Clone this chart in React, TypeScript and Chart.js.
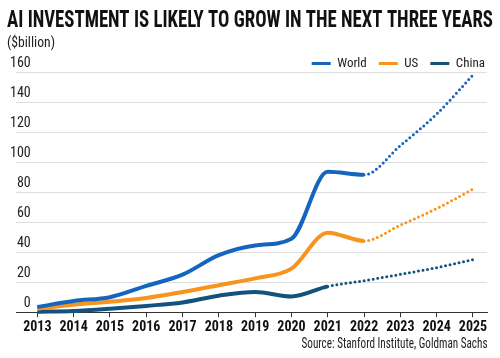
import React, { useEffect, useRef } from 'react';
import { Chart, registerables } from 'chart.js';

Chart.register(...registerables);

// ---- Data ----
const years = [2013, 2014, 2015, 2016, 2017, 2018, 2019, 2020, 2021, 2022, 2023, 2024, 2025];
const world = [3.5, 7.5, 10, 17.5, 25, 38, 44.5, 49, 93.5, 91.5, 111, 132, 158];
const us = [2.3, 5, 7, 9.5, 13.5, 18, 22.5, 29, 53, 47.5, 58, 69, 82];
const china = [0.3, 0.8, 2.3, 4.2, 6.5, 11, 13.5, 10.5, 17.2, 21, 25.2, 29.7, 35];
const seriesNames = ['World', 'US', 'China'];
const lastActualYear = [2022, 2022, 2021];
const yTickValues = [0, 20, 40, 60, 80, 100, 120, 140, 160];

const titleText = 'AI INVESTMENT IS LIKELY TO GROW IN THE NEXT THREE YEARS';
const subtitleText = '($billion)';
const sourceText = 'Source: Stanford Institute, Goldman Sachs';

// ---- Styles ----
const FONT = "'Roboto Condensed', 'Liberation Sans Narrow', 'DejaVu Sans Condensed', 'Arial Narrow', sans-serif";
const COLORS = ['#1565c0', '#f7941d', '#14527e'];

function makeDataset(label: string, values: number[], color: string, lastActual: number) {
  const fc = (c: any) => c.p0.parsed.x >= lastActual;
  return {
    label,
    data: years.map((x, i) => ({ x, y: values[i] })),
    borderColor: color,
    backgroundColor: color,
    borderWidth: 4,
    pointRadius: 0,
    pointHoverRadius: 0,
    cubicInterpolationMode: 'monotone' as const,
    fill: false,
    clip: false as any,
    segment: {
      borderDash: (c: any) => (fc(c) ? [0, 4.6] : undefined),
      borderWidth: (c: any) => (fc(c) ? 3 : undefined),
      borderCapStyle: (c: any) => (fc(c) ? 'round' : undefined),
    },
  };
}

function fitText(ctx: CanvasRenderingContext2D, text: string, x: number, y: number, width: number, align: 'left' | 'right') {
  const w = ctx.measureText(text).width;
  const sx = width / w;
  ctx.save();
  ctx.textAlign = 'left';
  ctx.translate(align === 'left' ? x : x - width, y);
  ctx.scale(sx, 1);
  ctx.fillText(text, 0, 0);
  ctx.restore();
}

const textPlugin = {
  id: 'texts',
  afterLayout(chart: any) {
    const lg = chart.legend;
    if (lg) {
      lg.top += 8;
      lg.bottom += 8;
      lg.left += 10;
      lg.right += 10;
    }
  },
  afterDraw(chart: any) {
    const ctx = chart.ctx as CanvasRenderingContext2D;
    ctx.save();
    ctx.textBaseline = 'alphabetic';

    ctx.fillStyle = '#111';
    ctx.font = `bold 24px ${FONT}`;
    fitText(ctx, titleText, 7, 26.5, 486, 'left');

    ctx.fillStyle = '#222';
    ctx.font = `15px ${FONT}`;
    fitText(ctx, subtitleText, 7, 46.5, 48, 'left');

    ctx.font = `14px ${FONT}`;
    fitText(ctx, sourceText, 487.5, 348, 186, 'right');
    ctx.restore();
  },
};

export default function App() {
  const ref = useRef<HTMLCanvasElement>(null);

  useEffect(() => {
    document.body.style.margin = '0';
    const canvas = ref.current!;
    const datasets = [
      makeDataset(seriesNames[0], world, COLORS[0], lastActualYear[0]),
      makeDataset(seriesNames[1], us, COLORS[1], lastActualYear[1]),
      makeDataset(seriesNames[2], china, COLORS[2], lastActualYear[2]),
    ];
    const chart = new Chart(canvas, {
      type: 'line',
      data: { datasets: datasets as any },
      plugins: [textPlugin],
      options: {
        responsive: false,
        animation: false,
        layout: { padding: { top: 37, left: 16, right: 13, bottom: 20 } },
        plugins: {
          tooltip: { enabled: false },
          title: { display: false },
          legend: {
            display: true,
            position: 'top',
            align: 'end',
            labels: {
              usePointStyle: true,
              pointStyle: 'line',
              pointStyleWidth: 19,
              padding: 12,
              color: '#222',
              font: { family: FONT, size: 13 },
              generateLabels: (ch: any) =>
                (Chart.defaults.plugins.legend.labels.generateLabels as any)(ch).map((l: any) => ({
                  ...l,
                  lineWidth: 3,
                  lineDash: [],
                  lineCap: 'butt',
                })),
            },
          },
        },
        scales: {
          x: {
            type: 'linear',
            min: 2012.413,
            max: 2025.386,
            afterBuildTicks: (axis: any) => {
              axis.ticks = years.map((v) => ({ value: v }));
            },
            grid: {
              display: true,
              drawOnChartArea: false,
              drawTicks: true,
              tickLength: 5,
              color: '#333',
              lineWidth: 1,
            },
            border: { display: true, color: '#333', width: 1 },
            ticks: {
              autoSkip: false,
              maxRotation: 0,
              padding: 2,
              color: '#111',
              font: { family: FONT, size: 14, weight: 'bold' },
              callback: (v: any) => String(v),
            },
          },
          y: {
            min: 0,
            max: 160,
            afterBuildTicks: (axis: any) => {
              axis.ticks = yTickValues.map((v) => ({ value: v }));
            },
            grid: { color: '#dedede', lineWidth: 1, drawTicks: false },
            border: { display: false },
            ticks: {
              mirror: true,
              crossAlign: 'far',
              padding: -2,
              labelOffset: -9,
              color: '#222',
              font: { family: FONT, size: 14 },
              callback: (v: any) => String(v),
            },
          },
        },
      } as any,
    });
    return () => chart.destroy();
  }, []);

  return (
    <div style={{ width: 500, height: 358, position: 'relative', background: '#fff' }}>
      <canvas ref={ref} width={500} height={358} style={{ display: 'block', width: 500, height: 358 }} />
    </div>
  );
}
